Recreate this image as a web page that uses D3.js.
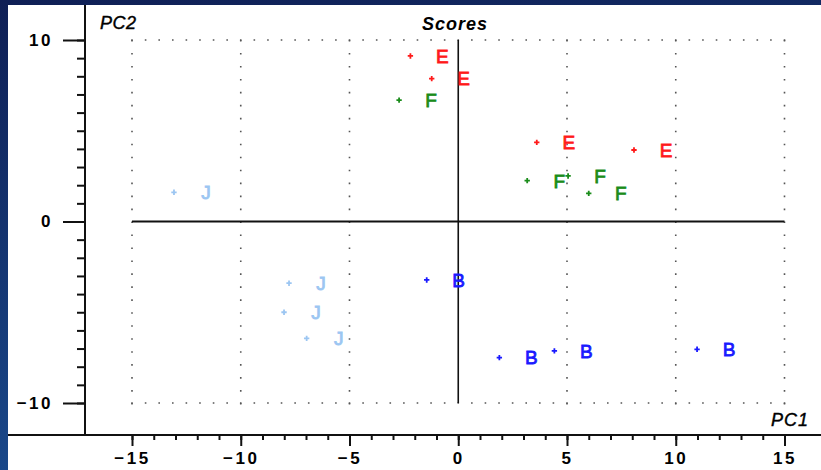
<!DOCTYPE html>
<html>
<head>
<meta charset="utf-8">
<script src="https://cdn.jsdelivr.net/npm/d3@7"></script>
<style>
  html, body { margin: 0; padding: 0; background: #0f1f55; }
  svg { display: block; font-family: "Liberation Sans", Arial, sans-serif; }
</style>
</head>
<body>
<svg id="chart" width="821" height="470"></svg>
<script>
// PCA score plot: groups of samples on PC1 / PC2
const groups = ["E", "F", "J", "B"];
const groupColors = ["#ff1a1a", "#1a8c1a", "#9cc6f2", "#1a1aff"];

const pc1E = [-2.20, -1.22, 3.61, 8.08];
const pc2E = [9.12, 7.87, 4.36, 3.94];
const pc1F = [-2.72, 3.17, 5.05, 6.00];
const pc2F = [6.69, 2.25, 2.51, 1.55];
const pc1J = [-13.07, -7.78, -8.01, -6.97];
const pc2J = [1.61, -3.40, -5.00, -6.44];
const pc1B = [-1.45, 1.89, 4.42, 10.98];
const pc2B = [-3.22, -7.50, -7.13, -7.04];

const xMajorTicks = [-15, -10, -5, 0, 5, 10, 15];
const yMajorTicks = [-10, 0, 10];
const xGridLines = [-15, -10, -5, 5, 10, 15];
const yGridLines = [-10, 10];

const W = 821, H = 470;
const svg = d3.select("#chart");

// Frame: navy border with a lighter lower-left
const defs = svg.append("defs");
const grad = defs.append("linearGradient").attr("id", "frame")
  .attr("x1", "0").attr("y1", "0").attr("x2", "0.25").attr("y2", "1");
grad.append("stop").attr("offset", "0").attr("stop-color", "#0f1f55");
grad.append("stop").attr("offset", "1").attr("stop-color", "#1a4a8c");
svg.append("rect").attr("width", W).attr("height", H).attr("fill", "url(#frame)");
svg.append("rect").attr("x", 8).attr("y", 5).attr("width", W - 8).attr("height", H - 5).attr("fill", "#ffffff");

const x = d3.scaleLinear().domain([-15, 15]).range([132, 784.5]);
const y = d3.scaleLinear().domain([-10, 10]).range([403, 40]);

const axisX = 85, axisY = 435;

// Dotted reference grid
const dotV = 28, dotH = 48;
const vLen = y(-10) - y(10), hLen = x(15) - x(-15);
svg.append("g").selectAll("line").data(xGridLines).join("line")
  .attr("x1", d => x(d)).attr("x2", d => x(d))
  .attr("y1", y(10)).attr("y2", y(-10) + 1.6)
  .attr("stroke", "#555").attr("stroke-width", 1.6)
  .attr("stroke-dasharray", `1.6,${vLen / dotV - 1.6}`);
svg.append("g").selectAll("line").data(yGridLines).join("line")
  .attr("x1", x(-15) - 0.8).attr("x2", x(15) + 1)
  .attr("y1", d => y(d)).attr("y2", d => y(d))
  .attr("stroke", "#555").attr("stroke-width", 1.6)
  .attr("stroke-dasharray", `1.6,${hLen / dotH - 1.6}`);

// Solid zero lines
svg.append("line").attr("x1", x(-15)).attr("x2", x(15)).attr("y1", y(0)).attr("y2", y(0))
  .attr("stroke", "#111").attr("stroke-width", 2);
svg.append("line").attr("x1", x(0)).attr("x2", x(0)).attr("y1", y(10)).attr("y2", y(-10))
  .attr("stroke", "#111").attr("stroke-width", 1.6);

// Axes
const tickFont = g => g.selectAll("text")
  .attr("font-family", "'Liberation Sans', Arial, sans-serif")
  .attr("font-size", 17).attr("font-weight", "bold")
  .attr("letter-spacing", "2.5px").attr("fill", "#000");

const gx = svg.append("g").attr("transform", `translate(0,${axisY})`);
gx.append("g").call(d3.axisBottom(x).tickValues(d3.range(-15, 16)).tickSize(5).tickFormat(""))
  .call(g => g.select(".domain").remove());
gx.append("g").call(d3.axisBottom(x).tickValues(xMajorTicks).tickSize(11).tickPadding(6).tickFormat(d3.format("d")))
  .call(g => g.select(".domain").remove())
  .call(tickFont);
gx.selectAll("line").attr("stroke", "#111").attr("stroke-width", 2);

const gy = svg.append("g").attr("transform", `translate(${axisX},0)`);
gy.append("g").call(d3.axisLeft(y).tickValues(d3.range(-10, 11)).tickSize(8).tickFormat(""))
  .call(g => g.select(".domain").remove());
gy.append("g").call(d3.axisLeft(y).tickValues(yMajorTicks).tickSize(22).tickPadding(10).tickFormat(d3.format("d")))
  .call(g => g.select(".domain").remove())
  .call(tickFont);
gy.selectAll("line").attr("stroke", "#111").attr("stroke-width", 2);

svg.append("line").attr("x1", 8).attr("x2", W).attr("y1", axisY).attr("y2", axisY)
  .attr("stroke", "#111").attr("stroke-width", 2);
svg.append("line").attr("x1", axisX).attr("x2", axisX).attr("y1", 5).attr("y2", axisY)
  .attr("stroke", "#111").attr("stroke-width", 2);

// Titles
svg.append("text").attr("x", 100).attr("y", 29).text("PC2")
  .attr("font-size", 18).attr("font-style", "italic").attr("letter-spacing", "0.5px")
  .attr("fill", "#000").attr("stroke", "#000").attr("stroke-width", 0.4);
svg.append("text").attr("x", 422).attr("y", 30).text("Scores")
  .attr("font-size", 18).attr("font-weight", "bold").attr("font-style", "italic")
  .attr("letter-spacing", "1px").attr("fill", "#000");
svg.append("text").attr("x", 771).attr("y", 426).text("PC1")
  .attr("font-size", 18).attr("font-style", "italic").attr("letter-spacing", "1px")
  .attr("fill", "#000").attr("stroke", "#000").attr("stroke-width", 0.4);

// Score points with group labels
const series = [
  { g: "E", xs: pc1E, ys: pc2E },
  { g: "F", xs: pc1F, ys: pc2F },
  { g: "J", xs: pc1J, ys: pc2J },
  { g: "B", xs: pc1B, ys: pc2B }
];
const color = d3.scaleOrdinal().domain(groups).range(groupColors);
const points = series.flatMap(s => s.xs.map((v, i) => ({ g: s.g, pc1: v, pc2: s.ys[i] })));

const cross = d3.symbol().type(d3.symbolCross).size(16);
svg.append("g").selectAll("path").data(points).join("path")
  .attr("transform", d => `translate(${x(d.pc1)},${y(d.pc2)})`)
  .attr("d", cross)
  .attr("fill", d => color(d.g));

svg.append("g").selectAll("text").data(points).join("text")
  .attr("x", d => x(d.pc1) + 32)
  .attr("y", d => y(d.pc2))
  .attr("dy", "0.36em")
  .attr("text-anchor", "middle")
  .attr("font-size", 19)
  .attr("fill", d => color(d.g))
  .attr("stroke", d => color(d.g))
  .attr("stroke-width", 0.8)
  .text(d => d.g);
</script>
</body>
</html>
